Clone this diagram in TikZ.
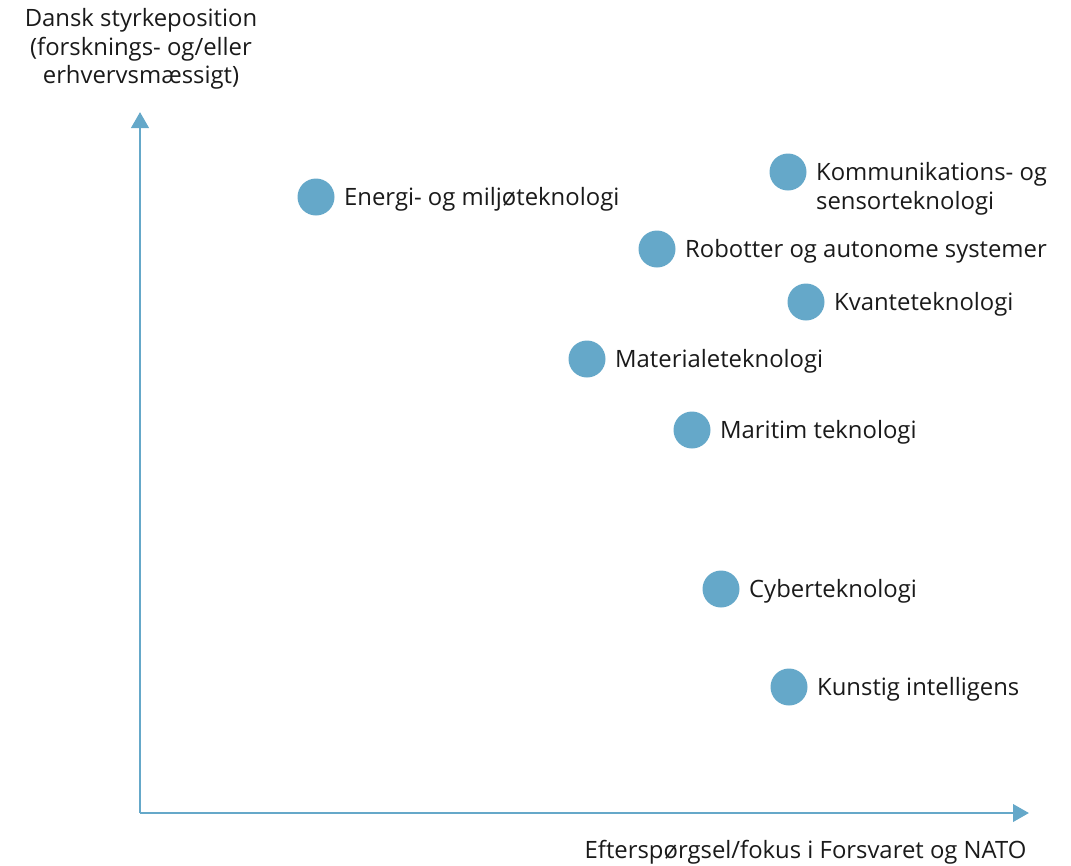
\documentclass[tikz,border=0pt]{standalone}
\usepackage{fontspec}
\setmainfont{Open Sans}
\usetikzlibrary{positioning,arrows.meta}

\definecolor{dotblue}{RGB}{101,168,201}
\definecolor{txtgray}{RGB}{26,26,26}

\tikzset{every picture/.style={line width=0.75pt}}
\tikzset{
  tech/.style={circle,fill=dotblue,minimum size=27.75pt,inner sep=0pt},
  techlbl/.style={font=\fontsize{17.9}{21.75}\selectfont,text=txtgray,inner sep=0pt,align=left,yshift=-1.5pt},
  axislbl/.style={font=\fontsize{17.9}{21.2}\selectfont,text=txtgray,inner sep=0pt,align=center},
  axis/.style={draw=dotblue,line width=2.2pt,-{Triangle[width=13pt,length=12pt]}}
}

\begin{document}
\begin{tikzpicture}[x=0.75pt,y=0.75pt,yscale=-1,xscale=1]
    \useasboundingbox (0,0) rectangle (1071,865);

    % axes
    \coordinate (origin) at (140,813);
    \coordinate (ytip) at (140,112);
    \coordinate (xtip) at (1029,813);
    \draw[axis] (origin) -- (ytip);
    \draw[axis] (origin) -- (xtip);

    % axis labels
    \node[axislbl] (ylbl) at (141,49) {Dansk styrkeposition\\(forsknings- og/eller\\erhvervsmæssigt)};
    \node[axislbl,anchor=east] (xlbl) at (1027,852) {Efterspørgsel/fokus i Forsvaret og NATO};

    % technologies
    \node[tech] (energi) at (316,197) {};
    \node[tech] (komm) at (788,172) {};
    \node[tech] (robot) at (657,249) {};
    \node[tech] (kvante) at (806,302) {};
    \node[tech] (material) at (587,359) {};
    \node[tech] (maritim) at (692,430) {};
    \node[tech] (cyber) at (721,589) {};
    \node[tech] (ai) at (789,687) {};

    % labels
    \node[techlbl,right=6.5pt of energi] (energilbl) {Energi- og miljøteknologi};
    \node[techlbl,right=6.5pt of komm,yshift=-10.9pt] (kommlbl) {Kommunikations- og\\sensorteknologi};
    \node[techlbl,right=6.5pt of robot] (robotlbl) {Robotter og autonome systemer};
    \node[techlbl,right=6.5pt of kvante] (kvantelbl) {Kvanteteknologi};
    \node[techlbl,right=6.5pt of material] (materiallbl) {Materialeteknologi};
    \node[techlbl,right=6.5pt of maritim] (maritimlbl) {Maritim teknologi};
    \node[techlbl,right=6.5pt of cyber] (cyberlbl) {Cyberteknologi};
    \node[techlbl,right=6.5pt of ai] (ailbl) {Kunstig intelligens};

\end{tikzpicture}
\end{document}
